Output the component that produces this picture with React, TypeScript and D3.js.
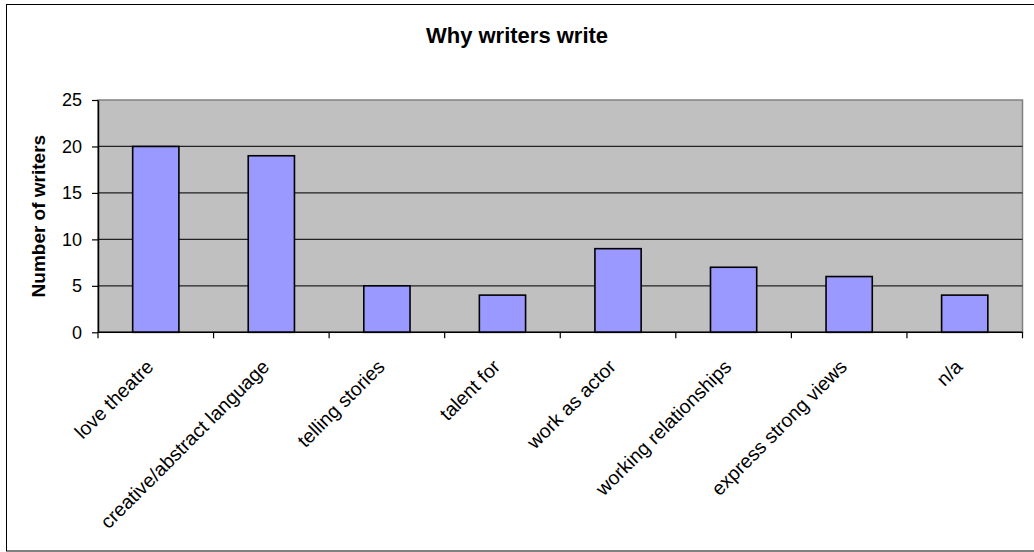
import React, { useEffect, useRef } from "react";
import * as d3 from "d3";

const categories: string[] = [
  "love theatre",
  "creative/abstract language",
  "telling stories",
  "talent for",
  "work as actor",
  "working relationships",
  "express strong views",
  "n/a",
];
const values: number[] = [20, 19, 5, 4, 9, 7, 6, 4];
const yTicks: number[] = [0, 5, 10, 15, 20, 25];
const chartTitle = "Why writers write";
const yTitle = "Number of writers";

const W = 1034;
const H = 552;
const FONT = "Arial, 'Liberation Sans', sans-serif";

export default function App() {
  const ref = useRef<SVGSVGElement | null>(null);

  useEffect(() => {
    const svg = d3.select(ref.current);
    svg.selectAll("*").remove();

    const x0 = 98, x1 = 1022.5, yTop = 100, yBot = 332.3;

    const x = d3.scaleBand<string>().domain(categories).range([x0, x1]).paddingInner(0.6).paddingOuter(0.3);
    const xb = d3.scaleLinear().domain([0, categories.length]).range([x0, x1]);
    const y = d3.scaleLinear().domain([0, 25]).range([yBot, yTop]);

    // outer border
    svg.append("rect").attr("x", 6.5).attr("y", 4.5).attr("width", 1040).attr("height", 546.5)
      .attr("fill", "#fff").attr("stroke", "#000").attr("stroke-width", 1);

    // plot area
    svg.append("rect").attr("x", x0).attr("y", yTop).attr("width", x1 - x0).attr("height", yBot - yTop)
      .attr("fill", "#C0C0C0").attr("stroke", "#808080").attr("stroke-width", 1.5);

    // gridlines
    svg.append("g").selectAll("line").data(yTicks.filter(t => t > 0 && t < 25)).join("line")
      .attr("x1", x0).attr("x2", x1).attr("y1", d => y(d)).attr("y2", d => y(d))
      .attr("stroke", "#222").attr("stroke-width", 1.2);

    // bars
    svg.append("g").selectAll("rect").data(values).join("rect")
      .attr("x", (_, i) => x(categories[i]) as number)
      .attr("width", x.bandwidth())
      .attr("y", d => y(d))
      .attr("height", d => yBot - y(d))
      .attr("fill", "#9999FF").attr("stroke", "#000").attr("stroke-width", 1.6);

    // y axis
    const yAxis = svg.append("g").attr("transform", `translate(${x0},0)`)
      .call(d3.axisLeft(y).tickValues(yTicks).tickSize(6).tickPadding(10).tickSizeOuter(0));
    yAxis.select(".domain").attr("stroke", "#000").attr("stroke-width", 1.5);
    yAxis.selectAll(".tick line").attr("stroke", "#000").attr("stroke-width", 1.2);
    yAxis.selectAll(".tick text").attr("font-family", FONT).attr("font-size", 18).attr("fill", "#000");

    // x axis line
    svg.append("line").attr("x1", x0).attr("x2", x1).attr("y1", yBot).attr("y2", yBot)
      .attr("stroke", "#000").attr("stroke-width", 1.5);
    svg.append("g").selectAll("line").data(d3.range(categories.length + 1)).join("line")
      .attr("x1", d => xb(d)).attr("x2", d => xb(d)).attr("y1", yBot).attr("y2", yBot + 6)
      .attr("stroke", "#000").attr("stroke-width", 1.2);

    // x labels
    svg.append("g").selectAll("text").data(categories).join("text")
      .attr("transform", (d) => `translate(${(x(d) as number) + x.bandwidth() / 2 - 1},368) rotate(-45)`)
      .attr("text-anchor", "end")
      .attr("font-family", FONT).attr("font-size", 19.5).attr("fill", "#000")
      .text(d => d);

    // title
    svg.append("text").attr("x", 517).attr("y", 43).attr("text-anchor", "middle")
      .attr("font-family", FONT).attr("font-size", 22).attr("font-weight", "bold").text(chartTitle);

    // y title
    svg.append("text").attr("transform", `translate(45,${(yTop + yBot) / 2}) rotate(-90)`)
      .attr("text-anchor", "middle")
      .attr("font-family", FONT).attr("font-size", 19).attr("font-weight", "bold").text(yTitle);
  }, []);

  return (
    <svg ref={ref} width={W} height={H} style={{ position: "absolute", left: 0, top: 0, background: "#fff" }} />
  );
}
